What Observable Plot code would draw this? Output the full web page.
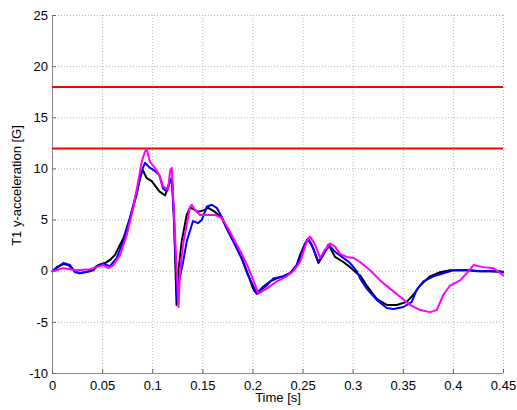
<!DOCTYPE html>
<html>
<head>
<meta charset="utf-8">
<script src="https://cdn.jsdelivr.net/npm/d3@7"></script>
<script src="https://cdn.jsdelivr.net/npm/@observablehq/plot@0.6"></script>
<style>
  html, body { margin: 0; padding: 0; background: #fff; }
  #chart { width: 517px; height: 410px; }
</style>
</head>
<body>
<div id="chart"></div>
<script>
// ---- data ----
const timeBlack = [0.000,0.0042,0.0108,0.0158,0.0224,0.0274,0.0341,0.0407,0.0457,0.0524,0.0574,0.0624,0.0674,0.0707,0.0773,0.0840,0.0873,0.0900,0.0940,0.0990,0.1066,0.1123,0.1173,0.1193,0.1213,0.1238,0.1252,0.1289,0.1339,0.1372,0.1402,0.1452,0.1522,0.1552,0.1622,0.1689,0.1751,0.1821,0.1888,0.1951,0.2001,0.2037,0.2104,0.2171,0.2238,0.2300,0.2370,0.2437,0.2470,0.2520,0.2553,0.2603,0.2653,0.2703,0.2753,0.2819,0.2902,0.2969,0.3036,0.3069,0.3135,0.3235,0.3335,0.3435,0.3535,0.3601,0.3668,0.3767,0.3867,0.3967,0.4067,0.4167,0.4267,0.4366,0.4466,0.4496];
const accBlack  = [0.0,0.4,0.7,0.6,0.0,-0.2,-0.05,0.1,0.6,0.8,1.1,1.6,2.6,3.2,5.2,7.5,9.1,9.9,9.1,8.8,7.8,7.4,8.8,9.1,4.9,-3.3,-0.3,2.9,5.5,6.2,6.1,5.8,6.0,6.2,5.8,5.2,3.9,2.6,1.3,-0.3,-1.7,-2.2,-1.5,-1.0,-0.7,-0.5,-0.2,0.6,1.6,2.7,3.2,2.2,0.8,1.6,2.6,1.4,0.9,0.4,-0.2,-0.4,-1.4,-2.7,-3.3,-3.3,-3.0,-2.3,-1.4,-0.5,-0.1,0.1,0.1,0.1,0.0,0.0,0.0,-0.1];

const timeBlue = [0.000,0.0042,0.0108,0.0175,0.0224,0.0274,0.0374,0.0441,0.0507,0.0574,0.0641,0.0692,0.0707,0.0773,0.0840,0.0890,0.0923,0.0973,0.1023,0.1066,0.1103,0.1140,0.1173,0.1190,0.1213,0.1243,0.1256,0.1303,0.1339,0.1389,0.1402,0.1452,0.1489,0.1539,0.1589,0.1639,0.1689,0.1751,0.1821,0.1888,0.1951,0.2001,0.2037,0.2137,0.2204,0.2304,0.2370,0.2453,0.2503,0.2543,0.2587,0.2653,0.2719,0.2763,0.2819,0.2902,0.2969,0.3036,0.3069,0.3135,0.3235,0.3335,0.3401,0.3501,0.3585,0.3635,0.3701,0.3801,0.3900,0.4000,0.4137,0.4233,0.4366,0.4496];
const accBlue  = [0.0,0.3,0.8,0.6,-0.1,-0.2,0.0,0.5,0.7,0.5,1.3,2.6,2.9,5.2,7.8,9.8,10.6,10.1,9.8,9.4,8.1,7.8,8.8,9.1,5.0,-2.8,-1.3,0.9,2.9,4.5,4.9,4.7,5.0,6.3,6.5,6.2,5.3,4.0,2.6,1.2,-0.4,-1.4,-2.2,-1.4,-0.7,-0.5,-0.2,0.8,2.2,3.1,2.6,0.9,1.9,2.5,1.9,1.3,0.8,0.0,-0.7,-1.7,-2.8,-3.6,-3.7,-3.5,-3.0,-1.8,-1.0,-0.5,-0.2,0.1,0.1,0.0,0.0,-0.1];

const timeMagenta = [0.000,0.0108,0.0241,0.0374,0.0441,0.0507,0.0557,0.0607,0.0674,0.0740,0.0806,0.0856,0.0890,0.0923,0.0940,0.0973,0.1023,0.1066,0.1103,0.1153,0.1173,0.1190,0.1220,0.1257,0.1272,0.1302,0.1339,0.1372,0.1389,0.1422,0.1472,0.1522,0.1622,0.1689,0.1751,0.1821,0.1888,0.1951,0.2021,0.2054,0.2137,0.2238,0.2337,0.2403,0.2470,0.2537,0.2570,0.2620,0.2670,0.2719,0.2769,0.2819,0.2869,0.2936,0.3002,0.3069,0.3169,0.3268,0.3368,0.3468,0.3568,0.3668,0.3767,0.3834,0.3900,0.3967,0.4067,0.4134,0.4200,0.4300,0.4400,0.4496];
const accMagenta  = [0.0,0.3,0.1,0.2,0.4,0.6,0.3,0.6,1.6,3.5,6.2,8.8,10.7,11.7,11.9,10.7,10.1,9.4,8.3,8.0,9.8,10.1,4.0,-3.5,-0.1,2.6,4.5,6.3,6.5,6.0,5.5,5.5,5.5,5.2,4.2,2.9,1.7,0.4,-1.3,-2.2,-1.7,-1.0,-0.5,0.0,0.9,2.9,3.4,2.6,1.3,2.1,2.7,2.4,1.7,1.4,1.3,0.9,0.1,-0.9,-1.7,-2.5,-3.3,-3.8,-4.0,-3.8,-2.3,-1.4,-0.9,-0.2,0.6,0.4,0.3,-0.4];

const thresholds = [18, 12];
const xTicks = [0, 0.05, 0.1, 0.15, 0.2, 0.25, 0.3, 0.35, 0.4, 0.45];
const yTicks = [-10, -5, 0, 5, 10, 15, 20, 25];
const xLabel = "Time [s]";
const yLabel = "T1 y-acceleration [G]";

// ---- build tables ----
const toRows = (ts, vs) => ts.map((t, i) => ({t, v: vs[i]}));
const black = toRows(timeBlack, accBlack);
const blue = toRows(timeBlue, accBlue);
const magenta = toRows(timeMagenta, accMagenta);
const fmt = d => String(d);

const chart = Plot.plot({
  width: 517,
  height: 410,
  marginLeft: 52,
  marginRight: 14,
  marginTop: 15,
  marginBottom: 37,
  style: {fontFamily: "'Liberation Sans', Arial, sans-serif", fontSize: "13px", background: "#fff", color: "#000"},
  x: {domain: [0, 0.45]},
  y: {domain: [-10, 25]},
  marks: [
    Plot.gridX(xTicks, {stroke: "#b4b4b4", strokeOpacity: 1, strokeDasharray: "1,2"}),
    Plot.gridY(yTicks, {stroke: "#b4b4b4", strokeOpacity: 1, strokeDasharray: "1,2"}),
    Plot.ruleX([0], {stroke: "#8c8c8c", strokeWidth: 1}),
    Plot.ruleY([-10], {stroke: "#8c8c8c", strokeWidth: 1}),
    Plot.axisX(xTicks, {tickFormat: fmt, tickSize: -4, tickPadding: 11, label: null, stroke: "#666"}),
    Plot.axisY(yTicks, {tickFormat: fmt, tickSize: -4, tickPadding: 8.5, label: null, stroke: "#666"}),
    Plot.ruleY(thresholds, {stroke: "#ff0000", strokeWidth: 2}),
    Plot.line(black, {x: "t", y: "v", stroke: "#000000", strokeWidth: 2}),
    Plot.line(blue, {x: "t", y: "v", stroke: "#0000ff", strokeWidth: 2}),
    Plot.line(magenta, {x: "t", y: "v", stroke: "#ff00ff", strokeWidth: 2}),
    Plot.text([xLabel], {frameAnchor: "bottom", dy: 24, lineAnchor: "middle", textAnchor: "middle", fontSize: 13}),
    Plot.text([yLabel], {frameAnchor: "left", rotate: -90, dx: -36, dy: -9, lineAnchor: "middle", textAnchor: "middle", fontSize: 13})
  ]
});
document.getElementById("chart").appendChild(chart);
</script>
</body>
</html>
